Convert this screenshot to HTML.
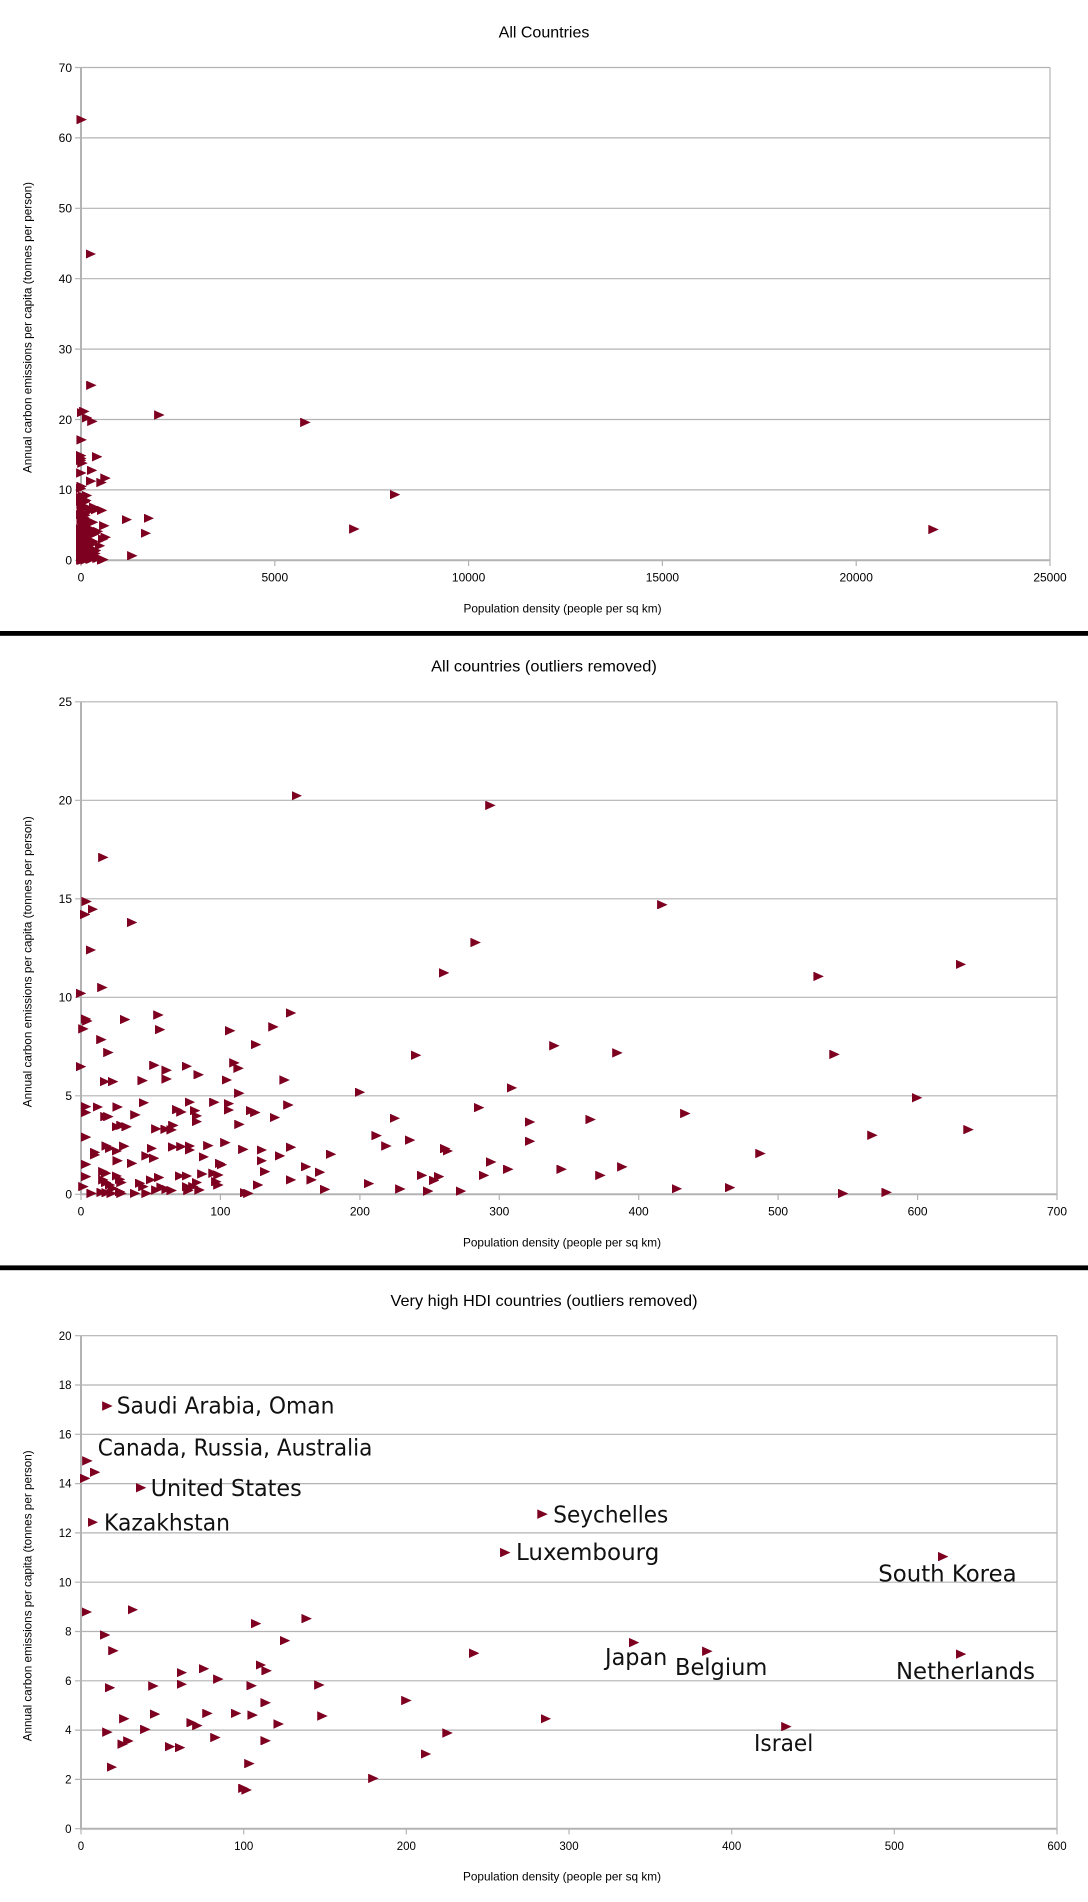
<!DOCTYPE html>
<html>
<head>
<meta charset="utf-8">
<style>
html,body{margin:0;padding:0;background:#fff}
#w{position:relative;width:1088px;height:1902px;overflow:hidden;background:#fff}
svg{position:absolute;left:0;top:0}
.m{position:absolute;left:0;top:0;width:1088px;height:1902px}
.m i{position:absolute;display:block;width:10.5px;height:9.5px;margin:-4.75px 0 0 -5.2px;background:#7e0021;clip-path:polygon(0 0,100% 50%,0 100%)}
.c1 i{left:calc(81px + var(--d) * 0.03876px);top:calc(560.3px - var(--e) * 7.04px)}
.c2 i{left:calc(81px + var(--d) * 1.3943px);top:calc(1194.3px - var(--e) * 19.7px)}
.c3 i{left:calc(81px + var(--d) * 1.6267px);top:calc(1828.7px - var(--e) * 24.65px)}
</style>
</head>
<body>
<div id="w">
<svg width="1088" height="1902" viewBox="0 0 1088 1902" xmlns="http://www.w3.org/2000/svg" font-family="'Liberation Sans', Arial, sans-serif">
<rect x="0" y="631" width="1088" height="4.8" fill="#000"/>
<rect x="0" y="1265.4" width="1088" height="4.8" fill="#000"/>

<g stroke="#b3b3b3" fill="none">
<path stroke-width="1.2" d="M75 67.5H1050M75 137.9H1050M75 208.3H1050M75 278.7H1050M75 349.1H1050M75 419.5H1050M75 489.9H1050M75 560.3H81M1050 67.5V560.3"/>
<path stroke-width="1.2" d="M81 560.3V566M274.8 560.3V566M468.6 560.3V566M662.4 560.3V566M856.2 560.3V566M1050 560.3V566"/>
<path stroke-width="2" d="M81 67.5V561M80 560.3H1050"/>
</g>
<text x="544" y="37.5" text-anchor="middle" font-size="16" fill="#000">All Countries</text>
<g font-size="12" fill="#000" text-anchor="end">
<text x="72" y="564.6">0</text>
<text x="72" y="494.2">10</text>
<text x="72" y="423.8">20</text>
<text x="72" y="353.4">30</text>
<text x="72" y="283">40</text>
<text x="72" y="212.6">50</text>
<text x="72" y="142.2">60</text>
<text x="72" y="71.8">70</text>
</g>
<g font-size="12" fill="#000" text-anchor="middle">
<text x="81" y="581.7">0</text>
<text x="274.8" y="581.7">5000</text>
<text x="468.6" y="581.7">10000</text>
<text x="662.4" y="581.7">15000</text>
<text x="856.2" y="581.7">20000</text>
<text x="1050" y="581.7">25000</text>
<text x="562.5" y="612.3" textLength="198" lengthAdjust="spacingAndGlyphs">Population density (people per sq km)</text>
<text transform="translate(31.5,327.5) rotate(-90)" textLength="291" lengthAdjust="spacingAndGlyphs">Annual carbon emissions per capita (tonnes per person)</text>
</g>

<g stroke="#b3b3b3" fill="none">
<path stroke-width="1.2" d="M75 701.8H1057M75 800.3H1057M75 898.8H1057M75 997.3H1057M75 1095.8H1057M75 1194.3H81M1057 701.8V1194.3"/>
<path stroke-width="1.2" d="M81 1194.3V1200M220.4 1194.3V1200M359.9 1194.3V1200M499.3 1194.3V1200M638.7 1194.3V1200M778.1 1194.3V1200M917.6 1194.3V1200M1057 1194.3V1200"/>
<path stroke-width="2" d="M81 701.8V1195M80 1194.3H1057"/>
</g>
<text x="544" y="671.7" text-anchor="middle" font-size="16" fill="#000" textLength="225.7" lengthAdjust="spacingAndGlyphs">All countries (outliers removed)</text>
<g font-size="12" fill="#000" text-anchor="end">
<text x="72" y="1198.6">0</text>
<text x="72" y="1100.1">5</text>
<text x="72" y="1001.6">10</text>
<text x="72" y="903.1">15</text>
<text x="72" y="804.6">20</text>
<text x="72" y="706.1">25</text>
</g>
<g font-size="12" fill="#000" text-anchor="middle">
<text x="81" y="1215.7">0</text>
<text x="220.4" y="1215.7">100</text>
<text x="359.9" y="1215.7">200</text>
<text x="499.3" y="1215.7">300</text>
<text x="638.7" y="1215.7">400</text>
<text x="778.1" y="1215.7">500</text>
<text x="917.6" y="1215.7">600</text>
<text x="1057" y="1215.7">700</text>
<text x="562" y="1246.3" textLength="198" lengthAdjust="spacingAndGlyphs">Population density (people per sq km)</text>
<text transform="translate(31.5,961.7) rotate(-90)" textLength="291" lengthAdjust="spacingAndGlyphs">Annual carbon emissions per capita (tonnes per person)</text>
</g>

<g stroke="#b3b3b3" fill="none">
<path stroke-width="1.2" d="M75 1335.7H1057M75 1385H1057M75 1434.3H1057M75 1483.6H1057M75 1532.9H1057M75 1582.2H1057M75 1631.5H1057M75 1680.8H1057M75 1730.1H1057M75 1779.4H1057M75 1828.7H81M1057 1335.7V1828.7"/>
<path stroke-width="1.2" d="M81 1828.7V1834.4M243.7 1828.7V1834.4M406.3 1828.7V1834.4M569 1828.7V1834.4M731.7 1828.7V1834.4M894.3 1828.7V1834.4M1057 1828.7V1834.4"/>
<path stroke-width="2" d="M81 1335.7V1829.4M80 1828.7H1057"/>
</g>
<text x="544" y="1306" text-anchor="middle" font-size="16" fill="#000" textLength="307" lengthAdjust="spacingAndGlyphs">Very high HDI countries (outliers removed)</text>
<g font-size="11.5" fill="#000" text-anchor="end">
<text x="71.5" y="1832.8">0</text>
<text x="71.5" y="1783.5">2</text>
<text x="71.5" y="1734.2">4</text>
<text x="71.5" y="1684.9">6</text>
<text x="71.5" y="1635.6">8</text>
<text x="71.5" y="1586.3">10</text>
<text x="71.5" y="1537">12</text>
<text x="71.5" y="1487.7">14</text>
<text x="71.5" y="1438.4">16</text>
<text x="71.5" y="1389.1">18</text>
<text x="71.5" y="1339.8">20</text>
</g>
<g font-size="11.5" fill="#000" text-anchor="middle">
<text x="81" y="1850">0</text>
<text x="243.7" y="1850">100</text>
<text x="406.3" y="1850">200</text>
<text x="569" y="1850">300</text>
<text x="731.7" y="1850">400</text>
<text x="894.3" y="1850">500</text>
<text x="1057" y="1850">600</text>
</g>
<g font-size="12" fill="#000" text-anchor="middle">
<text x="562" y="1880.7" textLength="198" lengthAdjust="spacingAndGlyphs">Population density (people per sq km)</text>
<text transform="translate(31.5,1595.8) rotate(-90)" textLength="291" lengthAdjust="spacingAndGlyphs">Annual carbon emissions per capita (tonnes per person)</text>
</g>
<g font-family="'DejaVu Sans', sans-serif" font-size="23" fill="#111">
<text x="116.7" y="1413.3" textLength="217.7" lengthAdjust="spacingAndGlyphs">Saudi Arabia, Oman</text>
<text x="97.7" y="1455.7" textLength="274.7" lengthAdjust="spacingAndGlyphs">Canada, Russia, Australia</text>
<text x="150.7" y="1496" textLength="151" lengthAdjust="spacingAndGlyphs">United States</text>
<text x="104" y="1530.7" textLength="126" lengthAdjust="spacingAndGlyphs">Kazakhstan</text>
<text x="553.3" y="1522.3" textLength="115" lengthAdjust="spacingAndGlyphs">Seychelles</text>
<text x="516" y="1560" textLength="143.3" lengthAdjust="spacingAndGlyphs">Luxembourg</text>
<text x="878.3" y="1581.7" textLength="138.3" lengthAdjust="spacingAndGlyphs">South Korea</text>
<text x="896" y="1679" textLength="139" lengthAdjust="spacingAndGlyphs">Netherlands</text>
<text x="605" y="1665" textLength="62.3" lengthAdjust="spacingAndGlyphs">Japan</text>
<text x="675" y="1675" textLength="92.3" lengthAdjust="spacingAndGlyphs">Belgium</text>
<text x="754" y="1751" textLength="59.3" lengthAdjust="spacingAndGlyphs">Israel</text>
</g>
</svg>

<div class="m c1">
<i style="--d:17;--e:62.6"></i><i style="--d:250;--e:43.5"></i><i style="--d:266;--e:24.86"></i><i style="--d:18;--e:20.97"></i><i style="--d:85;--e:21.15"></i><i style="--d:2020;--e:20.64"></i><i style="--d:5787;--e:19.6"></i><i style="--d:1179;--e:5.77"></i><i style="--d:1747;--e:5.97"></i><i style="--d:1669;--e:3.84"></i><i style="--d:1323;--e:0.65"></i><i style="--d:7051;--e:4.45"></i><i style="--d:8101;--e:9.32"></i><i style="--d:21994;--e:4.37"></i>
<i style="--d:4;--e:14.86"></i><i style="--d:3;--e:14.2"></i><i style="--d:8.4;--e:14.47"></i><i style="--d:36.6;--e:13.8"></i><i style="--d:7;--e:12.4"></i><i style="--d:0;--e:10.2"></i><i style="--d:15.3;--e:10.5"></i><i style="--d:3.6;--e:8.9"></i><i style="--d:4.5;--e:8.8"></i><i style="--d:1.7;--e:8.4"></i><i style="--d:31.6;--e:8.87"></i><i style="--d:55.5;--e:9.1"></i><i style="--d:56.7;--e:8.36"></i><i style="--d:150.6;--e:9.2"></i><i style="--d:107;--e:8.3"></i><i style="--d:138;--e:8.5"></i><i style="--d:125.5;--e:7.6"></i><i style="--d:14.6;--e:7.85"></i><i style="--d:19.6;--e:7.2"></i><i style="--d:0;--e:6.48"></i><i style="--d:52.6;--e:6.55"></i><i style="--d:61.4;--e:6.3"></i><i style="--d:61.4;--e:5.85"></i><i style="--d:75.8;--e:6.5"></i><i style="--d:84.4;--e:6.07"></i><i style="--d:110;--e:6.67"></i><i style="--d:113;--e:6.4"></i><i style="--d:104.5;--e:5.8"></i><i style="--d:146;--e:5.8"></i><i style="--d:113.5;--e:5.13"></i><i style="--d:200;--e:5.18"></i><i style="--d:17.2;--e:5.72"></i><i style="--d:23;--e:5.72"></i><i style="--d:44.2;--e:5.77"></i><i style="--d:3.6;--e:4.45"></i><i style="--d:3.6;--e:4.15"></i><i style="--d:12;--e:4.43"></i><i style="--d:26.3;--e:4.43"></i><i style="--d:17.5;--e:3.94"></i><i style="--d:19.6;--e:3.94"></i><i style="--d:39;--e:4.03"></i><i style="--d:45;--e:4.65"></i><i style="--d:25.6;--e:3.43"></i><i style="--d:29;--e:3.5"></i><i style="--d:32.7;--e:3.43"></i><i style="--d:54;--e:3.32"></i><i style="--d:60.7;--e:3.3"></i><i style="--d:65;--e:3.27"></i><i style="--d:66.2;--e:3.5"></i><i style="--d:69;--e:4.3"></i><i style="--d:72;--e:4.18"></i><i style="--d:78;--e:4.68"></i><i style="--d:81.8;--e:4.25"></i><i style="--d:83;--e:3.98"></i><i style="--d:83;--e:3.69"></i><i style="--d:95.6;--e:4.67"></i><i style="--d:106;--e:4.6"></i><i style="--d:106;--e:4.28"></i><i style="--d:122;--e:4.25"></i><i style="--d:125;--e:4.15"></i><i style="--d:113.6;--e:3.55"></i><i style="--d:139;--e:3.9"></i><i style="--d:148.7;--e:4.53"></i><i style="--d:212;--e:2.98"></i><i style="--d:219;--e:2.45"></i><i style="--d:225;--e:3.86"></i><i style="--d:3.6;--e:2.9"></i><i style="--d:10;--e:2.13"></i><i style="--d:10;--e:2"></i><i style="--d:18.4;--e:2.45"></i><i style="--d:20.8;--e:2.33"></i><i style="--d:25.6;--e:2.2"></i><i style="--d:31;--e:2.44"></i><i style="--d:26.3;--e:1.7"></i><i style="--d:36.6;--e:1.57"></i><i style="--d:50.7;--e:2.33"></i><i style="--d:47;--e:1.95"></i><i style="--d:52.4;--e:1.83"></i><i style="--d:66;--e:2.4"></i><i style="--d:72;--e:2.42"></i><i style="--d:78;--e:2.45"></i><i style="--d:78;--e:2.25"></i><i style="--d:91.3;--e:2.47"></i><i style="--d:88;--e:1.9"></i><i style="--d:103.5;--e:2.62"></i><i style="--d:116.4;--e:2.28"></i><i style="--d:129.6;--e:2.25"></i><i style="--d:129.6;--e:1.7"></i><i style="--d:132;--e:1.15"></i><i style="--d:99.7;--e:1.57"></i><i style="--d:101;--e:1.5"></i><i style="--d:95;--e:1.07"></i><i style="--d:98.5;--e:0.98"></i><i style="--d:98.5;--e:0.47"></i><i style="--d:97;--e:0.64"></i><i style="--d:142.7;--e:1.95"></i><i style="--d:150.6;--e:2.39"></i><i style="--d:179.3;--e:2.03"></i><i style="--d:161.4;--e:1.4"></i><i style="--d:171.4;--e:1.12"></i><i style="--d:165.4;--e:0.73"></i><i style="--d:150.6;--e:0.73"></i><i style="--d:175;--e:0.25"></i><i style="--d:127;--e:0.47"></i><i style="--d:117.6;--e:0.08"></i><i style="--d:120;--e:0.05"></i><i style="--d:206.5;--e:0.54"></i><i style="--d:229;--e:0.27"></i><i style="--d:3.6;--e:1.52"></i><i style="--d:3.6;--e:0.9"></i><i style="--d:1.7;--e:0.39"></i><i style="--d:7.6;--e:0.05"></i><i style="--d:16;--e:1.15"></i><i style="--d:18;--e:1.07"></i><i style="--d:16;--e:0.73"></i><i style="--d:18;--e:0.6"></i><i style="--d:20.8;--e:0.47"></i><i style="--d:14.8;--e:0.1"></i><i style="--d:18.4;--e:0.08"></i><i style="--d:22;--e:0.05"></i><i style="--d:25.6;--e:0.93"></i><i style="--d:28;--e:0.76"></i><i style="--d:29;--e:0.6"></i><i style="--d:23;--e:0.3"></i><i style="--d:28;--e:0.13"></i><i style="--d:29;--e:0.05"></i><i style="--d:38.7;--e:0.05"></i><i style="--d:42.3;--e:0.56"></i><i style="--d:44.7;--e:0.39"></i><i style="--d:47;--e:0.05"></i><i style="--d:50;--e:0.73"></i><i style="--d:56;--e:0.85"></i><i style="--d:54;--e:0.22"></i><i style="--d:57.8;--e:0.36"></i><i style="--d:61.4;--e:0.25"></i><i style="--d:65;--e:0.19"></i><i style="--d:71;--e:0.93"></i><i style="--d:75.8;--e:0.93"></i><i style="--d:75.8;--e:0.39"></i><i style="--d:77;--e:0.19"></i><i style="--d:80.6;--e:0.39"></i><i style="--d:83;--e:0.6"></i><i style="--d:85;--e:0.22"></i><i style="--d:87;--e:1.03"></i><i style="--d:154.7;--e:20.23"></i><i style="--d:16;--e:17.1"></i><i style="--d:293.6;--e:19.74"></i><i style="--d:416.9;--e:14.7"></i><i style="--d:283;--e:12.78"></i><i style="--d:260.4;--e:11.24"></i><i style="--d:529;--e:11.06"></i><i style="--d:631;--e:11.67"></i><i style="--d:540.4;--e:7.1"></i><i style="--d:339.5;--e:7.54"></i><i style="--d:384.7;--e:7.18"></i><i style="--d:240.3;--e:7.06"></i><i style="--d:309;--e:5.4"></i><i style="--d:285.5;--e:4.4"></i><i style="--d:433.4;--e:4.1"></i><i style="--d:599.6;--e:4.9"></i><i style="--d:322;--e:3.67"></i><i style="--d:365.5;--e:3.8"></i><i style="--d:322;--e:2.69"></i><i style="--d:236;--e:2.75"></i><i style="--d:261.2;--e:2.32"></i><i style="--d:263;--e:2.2"></i><i style="--d:567.6;--e:3"></i><i style="--d:636.5;--e:3.28"></i><i style="--d:487.3;--e:2.07"></i><i style="--d:294.2;--e:1.64"></i><i style="--d:306.4;--e:1.27"></i><i style="--d:344.7;--e:1.27"></i><i style="--d:388.2;--e:1.39"></i><i style="--d:372.5;--e:0.96"></i><i style="--d:289;--e:0.96"></i><i style="--d:244.6;--e:0.96"></i><i style="--d:253.3;--e:0.71"></i><i style="--d:256.8;--e:0.9"></i><i style="--d:249;--e:0.16"></i><i style="--d:272.5;--e:0.16"></i><i style="--d:427.3;--e:0.28"></i><i style="--d:465.5;--e:0.34"></i><i style="--d:546.6;--e:0.04"></i><i style="--d:577.8;--e:0.1"></i>
</div>

<div class="m c2">
<i style="--d:4;--e:14.86"></i><i style="--d:3;--e:14.2"></i><i style="--d:8.4;--e:14.47"></i><i style="--d:36.6;--e:13.8"></i><i style="--d:7;--e:12.4"></i><i style="--d:0;--e:10.2"></i><i style="--d:15.3;--e:10.5"></i><i style="--d:3.6;--e:8.9"></i><i style="--d:4.5;--e:8.8"></i><i style="--d:1.7;--e:8.4"></i><i style="--d:31.6;--e:8.87"></i><i style="--d:55.5;--e:9.1"></i><i style="--d:56.7;--e:8.36"></i><i style="--d:150.6;--e:9.2"></i><i style="--d:107;--e:8.3"></i><i style="--d:138;--e:8.5"></i><i style="--d:125.5;--e:7.6"></i><i style="--d:14.6;--e:7.85"></i><i style="--d:19.6;--e:7.2"></i><i style="--d:0;--e:6.48"></i><i style="--d:52.6;--e:6.55"></i><i style="--d:61.4;--e:6.3"></i><i style="--d:61.4;--e:5.85"></i><i style="--d:75.8;--e:6.5"></i><i style="--d:84.4;--e:6.07"></i><i style="--d:110;--e:6.67"></i><i style="--d:113;--e:6.4"></i><i style="--d:104.5;--e:5.8"></i><i style="--d:146;--e:5.8"></i><i style="--d:113.5;--e:5.13"></i><i style="--d:200;--e:5.18"></i><i style="--d:17.2;--e:5.72"></i><i style="--d:23;--e:5.72"></i><i style="--d:44.2;--e:5.77"></i><i style="--d:3.6;--e:4.45"></i><i style="--d:3.6;--e:4.15"></i><i style="--d:12;--e:4.43"></i><i style="--d:26.3;--e:4.43"></i><i style="--d:17.5;--e:3.94"></i><i style="--d:19.6;--e:3.94"></i><i style="--d:39;--e:4.03"></i><i style="--d:45;--e:4.65"></i><i style="--d:25.6;--e:3.43"></i><i style="--d:29;--e:3.5"></i><i style="--d:32.7;--e:3.43"></i><i style="--d:54;--e:3.32"></i><i style="--d:60.7;--e:3.3"></i><i style="--d:65;--e:3.27"></i><i style="--d:66.2;--e:3.5"></i><i style="--d:69;--e:4.3"></i><i style="--d:72;--e:4.18"></i><i style="--d:78;--e:4.68"></i><i style="--d:81.8;--e:4.25"></i><i style="--d:83;--e:3.98"></i><i style="--d:83;--e:3.69"></i><i style="--d:95.6;--e:4.67"></i><i style="--d:106;--e:4.6"></i><i style="--d:106;--e:4.28"></i><i style="--d:122;--e:4.25"></i><i style="--d:125;--e:4.15"></i><i style="--d:113.6;--e:3.55"></i><i style="--d:139;--e:3.9"></i><i style="--d:148.7;--e:4.53"></i><i style="--d:212;--e:2.98"></i><i style="--d:219;--e:2.45"></i><i style="--d:225;--e:3.86"></i><i style="--d:3.6;--e:2.9"></i><i style="--d:10;--e:2.13"></i><i style="--d:10;--e:2"></i><i style="--d:18.4;--e:2.45"></i><i style="--d:20.8;--e:2.33"></i><i style="--d:25.6;--e:2.2"></i><i style="--d:31;--e:2.44"></i><i style="--d:26.3;--e:1.7"></i><i style="--d:36.6;--e:1.57"></i><i style="--d:50.7;--e:2.33"></i><i style="--d:47;--e:1.95"></i><i style="--d:52.4;--e:1.83"></i><i style="--d:66;--e:2.4"></i><i style="--d:72;--e:2.42"></i><i style="--d:78;--e:2.45"></i><i style="--d:78;--e:2.25"></i><i style="--d:91.3;--e:2.47"></i><i style="--d:88;--e:1.9"></i><i style="--d:103.5;--e:2.62"></i><i style="--d:116.4;--e:2.28"></i><i style="--d:129.6;--e:2.25"></i><i style="--d:129.6;--e:1.7"></i><i style="--d:132;--e:1.15"></i><i style="--d:99.7;--e:1.57"></i><i style="--d:101;--e:1.5"></i><i style="--d:95;--e:1.07"></i><i style="--d:98.5;--e:0.98"></i><i style="--d:98.5;--e:0.47"></i><i style="--d:97;--e:0.64"></i><i style="--d:142.7;--e:1.95"></i><i style="--d:150.6;--e:2.39"></i><i style="--d:179.3;--e:2.03"></i><i style="--d:161.4;--e:1.4"></i><i style="--d:171.4;--e:1.12"></i><i style="--d:165.4;--e:0.73"></i><i style="--d:150.6;--e:0.73"></i><i style="--d:175;--e:0.25"></i><i style="--d:127;--e:0.47"></i><i style="--d:117.6;--e:0.08"></i><i style="--d:120;--e:0.05"></i><i style="--d:206.5;--e:0.54"></i><i style="--d:229;--e:0.27"></i><i style="--d:3.6;--e:1.52"></i><i style="--d:3.6;--e:0.9"></i><i style="--d:1.7;--e:0.39"></i><i style="--d:7.6;--e:0.05"></i><i style="--d:16;--e:1.15"></i><i style="--d:18;--e:1.07"></i><i style="--d:16;--e:0.73"></i><i style="--d:18;--e:0.6"></i><i style="--d:20.8;--e:0.47"></i><i style="--d:14.8;--e:0.1"></i><i style="--d:18.4;--e:0.08"></i><i style="--d:22;--e:0.05"></i><i style="--d:25.6;--e:0.93"></i><i style="--d:28;--e:0.76"></i><i style="--d:29;--e:0.6"></i><i style="--d:23;--e:0.3"></i><i style="--d:28;--e:0.13"></i><i style="--d:29;--e:0.05"></i><i style="--d:38.7;--e:0.05"></i><i style="--d:42.3;--e:0.56"></i><i style="--d:44.7;--e:0.39"></i><i style="--d:47;--e:0.05"></i><i style="--d:50;--e:0.73"></i><i style="--d:56;--e:0.85"></i><i style="--d:54;--e:0.22"></i><i style="--d:57.8;--e:0.36"></i><i style="--d:61.4;--e:0.25"></i><i style="--d:65;--e:0.19"></i><i style="--d:71;--e:0.93"></i><i style="--d:75.8;--e:0.93"></i><i style="--d:75.8;--e:0.39"></i><i style="--d:77;--e:0.19"></i><i style="--d:80.6;--e:0.39"></i><i style="--d:83;--e:0.6"></i><i style="--d:85;--e:0.22"></i><i style="--d:87;--e:1.03"></i><i style="--d:154.7;--e:20.23"></i><i style="--d:16;--e:17.1"></i><i style="--d:293.6;--e:19.74"></i><i style="--d:416.9;--e:14.7"></i><i style="--d:283;--e:12.78"></i><i style="--d:260.4;--e:11.24"></i><i style="--d:529;--e:11.06"></i><i style="--d:631;--e:11.67"></i><i style="--d:540.4;--e:7.1"></i><i style="--d:339.5;--e:7.54"></i><i style="--d:384.7;--e:7.18"></i><i style="--d:240.3;--e:7.06"></i><i style="--d:309;--e:5.4"></i><i style="--d:285.5;--e:4.4"></i><i style="--d:433.4;--e:4.1"></i><i style="--d:599.6;--e:4.9"></i><i style="--d:322;--e:3.67"></i><i style="--d:365.5;--e:3.8"></i><i style="--d:322;--e:2.69"></i><i style="--d:236;--e:2.75"></i><i style="--d:261.2;--e:2.32"></i><i style="--d:263;--e:2.2"></i><i style="--d:567.6;--e:3"></i><i style="--d:636.5;--e:3.28"></i><i style="--d:487.3;--e:2.07"></i><i style="--d:294.2;--e:1.64"></i><i style="--d:306.4;--e:1.27"></i><i style="--d:344.7;--e:1.27"></i><i style="--d:388.2;--e:1.39"></i><i style="--d:372.5;--e:0.96"></i><i style="--d:289;--e:0.96"></i><i style="--d:244.6;--e:0.96"></i><i style="--d:253.3;--e:0.71"></i><i style="--d:256.8;--e:0.9"></i><i style="--d:249;--e:0.16"></i><i style="--d:272.5;--e:0.16"></i><i style="--d:427.3;--e:0.28"></i><i style="--d:465.5;--e:0.34"></i><i style="--d:546.6;--e:0.04"></i><i style="--d:577.8;--e:0.1"></i>
</div>

<div class="m c3">
<i style="--d:3.5;--e:8.79"></i><i style="--d:31.8;--e:8.88"></i><i style="--d:14.8;--e:7.86"></i><i style="--d:19.9;--e:7.22"></i><i style="--d:17.8;--e:5.72"></i><i style="--d:44.5;--e:5.79"></i><i style="--d:61.9;--e:6.33"></i><i style="--d:61.9;--e:5.86"></i><i style="--d:75.6;--e:6.49"></i><i style="--d:84.4;--e:6.07"></i><i style="--d:107.6;--e:8.32"></i><i style="--d:138.7;--e:8.52"></i><i style="--d:125.4;--e:7.63"></i><i style="--d:110.5;--e:6.64"></i><i style="--d:114.1;--e:6.41"></i><i style="--d:104.9;--e:5.8"></i><i style="--d:146.5;--e:5.83"></i><i style="--d:113.5;--e:5.11"></i><i style="--d:16.2;--e:3.92"></i><i style="--d:26.6;--e:4.46"></i><i style="--d:25.6;--e:3.43"></i><i style="--d:29.1;--e:3.56"></i><i style="--d:39.5;--e:4.03"></i><i style="--d:45.5;--e:4.65"></i><i style="--d:54.7;--e:3.33"></i><i style="--d:60.9;--e:3.29"></i><i style="--d:68;--e:4.3"></i><i style="--d:71.5;--e:4.18"></i><i style="--d:77.7;--e:4.68"></i><i style="--d:82.6;--e:3.7"></i><i style="--d:95.3;--e:4.68"></i><i style="--d:105.5;--e:4.61"></i><i style="--d:121.5;--e:4.25"></i><i style="--d:113.5;--e:3.57"></i><i style="--d:148.4;--e:4.57"></i><i style="--d:18.9;--e:2.5"></i><i style="--d:103.5;--e:2.64"></i><i style="--d:99.8;--e:1.64"></i><i style="--d:101.8;--e:1.57"></i><i style="--d:179.7;--e:2.04"></i><i style="--d:200;--e:5.2"></i><i style="--d:212;--e:3.03"></i><i style="--d:225.3;--e:3.88"></i><i style="--d:241.7;--e:7.12"></i><i style="--d:285.7;--e:4.46"></i><i style="--d:433.6;--e:4.14"></i><i style="--d:340;--e:7.55"></i><i style="--d:385;--e:7.2"></i><i style="--d:541;--e:7.08"></i><i style="--d:530;--e:11.04"></i><i style="--d:260.8;--e:11.2"></i><i style="--d:283.7;--e:12.76"></i><i style="--d:16.2;--e:17.15"></i><i style="--d:3.9;--e:14.92"></i><i style="--d:8.6;--e:14.46"></i><i style="--d:2.5;--e:14.21"></i><i style="--d:36.9;--e:13.83"></i><i style="--d:7.2;--e:12.43"></i>
</div>
</div>
</body>
</html>
